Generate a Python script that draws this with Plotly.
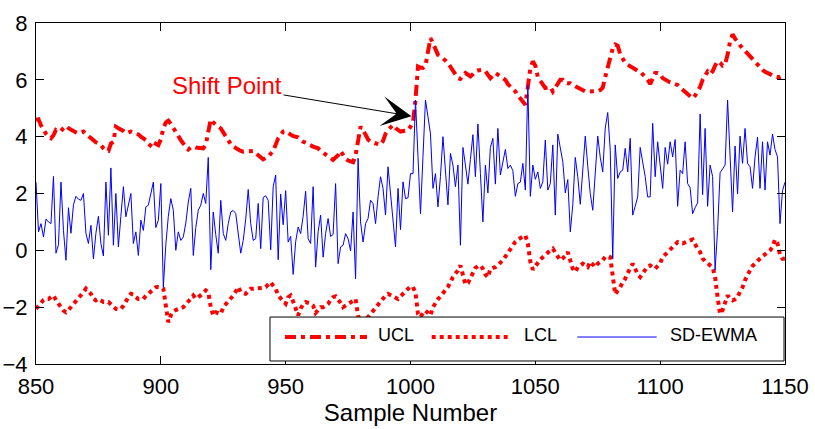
import plotly.graph_objects as go

sample_start = 850
sample_end = 1150
samples = list(range(sample_start, sample_end + 1))

ucl = [
    4.59, 4.61, 4.4, 4.24, 4.1, 4.0, 3.94, 4.05, 4.24, 4.2,
    4.2, 4.3, 4.38, 4.3, 4.24, 4.2, 4.15, 4.12, 4.15, 4.18,
    4.1, 4.02, 3.95, 3.88, 3.8, 3.76, 3.7, 3.59, 3.5, 3.5,
    3.76, 3.82, 4.35, 4.3, 4.26, 4.2, 4.12, 4.15, 4.18, 4.15,
    4.12, 4.08, 4.0, 3.95, 3.88, 3.75, 3.65, 3.6, 3.75, 3.7,
    3.9,
    4.3, 4.5, 4.56, 4.45, 4.29, 4.15, 4.0, 3.88, 3.76, 3.65,
    3.55, 3.62, 3.65, 3.62, 3.61, 3.6, 3.59, 3.72, 4.1, 4.61,
    4.5, 4.41, 4.35, 4.29, 4.15, 4.0, 3.87, 3.74, 3.65, 3.59,
    3.55, 3.5, 3.47, 3.47, 3.47, 3.48, 3.5, 3.42, 3.35, 3.28,
    3.2, 3.25, 3.29, 3.4, 3.5, 3.72, 3.94, 4.06, 4.18, 4.2,
    4.12, 4.07, 4.02, 4.0, 3.98, 3.9, 3.82, 3.79, 3.76, 3.7,
    3.65, 3.62, 3.59, 3.5, 3.44, 3.36, 3.29, 3.23, 3.18, 3.27,
    3.35, 3.5, 3.35, 3.22, 3.16, 3.12, 3.1, 3.35, 3.9, 4.35,
    4.24, 4.05, 3.9, 3.82, 3.8, 3.76, 3.74, 3.71, 3.85, 4.1,
    4.24, 4.35, 4.41, 4.3, 4.22, 4.18, 4.2, 4.21, 4.22, 4.35,
    4.5, 5.3, 6.47, 6.43, 6.42, 6.5, 7.06, 7.47, 7.29, 7.1,
    6.88, 6.82, 6.76, 6.68, 6.59, 6.47, 6.35, 6.2, 6.06, 6.03,
    6.15, 6.24, 6.18, 6.12, 6.2, 6.3, 6.33, 6.35, 6.35, 6.3,
    6.15, 6.06, 6.15, 6.24, 6.18, 6.12, 6.05, 6.0, 5.85, 5.76,
    5.65, 5.59, 5.45, 5.35, 5.22, 5.12, 5.76, 6.4, 6.65, 6.5,
    6.1, 5.95, 5.82, 5.71, 5.73, 5.75, 5.59, 5.72, 5.88, 6.0,
    6.0, 5.9, 5.88, 5.88, 5.82, 5.77, 5.72, 5.66, 5.62, 5.59,
    5.59, 5.59, 5.59, 5.59, 5.6, 5.64, 5.72, 6.1, 6.47, 6.8,
    7.1, 7.24, 7.2, 6.9, 6.72, 6.6, 6.53, 6.47, 6.42, 6.36,
    6.32, 6.29, 6.2, 6.12, 6.0, 5.85, 6.05, 6.24, 6.24, 6.2,
    6.06, 6.0, 5.94, 5.91, 5.88, 5.85, 5.82, 5.73, 5.65, 5.59,
    5.53, 5.44, 5.35, 5.45, 5.6, 5.75, 6.0, 6.15, 6.29, 6.2,
    6.3, 6.5, 6.65, 6.6, 6.5, 6.55, 6.88, 7.35, 7.6, 7.45,
    7.32, 7.2, 7.1, 7.02, 6.92, 6.8, 6.7, 6.6, 6.53, 6.45,
    6.35, 6.28, 6.25, 6.2, 6.15, 6.12, 6.1, 6.1, 6.15, 6.1,
]

lcl = [
    -2.06, -1.95, -1.82, -1.75, -1.71, -1.71, -1.65, -1.59, -1.75, -1.85,
    -2.0, -2.12, -2.18, -2.1, -2.0, -1.9, -1.82, -1.72, -1.6, -1.47,
    -1.35, -1.45, -1.53, -1.7, -1.76, -1.71, -1.75, -1.82, -1.82, -1.82,
    -1.9, -2.0, -2.06, -2.08, -2.06, -1.95, -1.76, -1.65, -1.53, -1.55,
    -1.65, -1.71, -1.71, -1.71, -1.6, -1.53, -1.45, -1.35, -1.3, -1.29,
    -1.3,
    -1.35, -2.0, -2.53, -2.29, -2.15, -2.1, -2.06, -2.03, -2.0, -1.9,
    -1.82, -1.7, -1.59, -1.7, -1.65, -1.59, -1.5, -1.41, -1.47, -2.0,
    -2.29, -2.18, -2.2, -2.24, -2.0, -1.9, -1.82, -1.7, -1.59, -1.45,
    -1.29, -1.47, -1.5, -1.53, -1.45, -1.35, -1.35, -1.35, -1.35, -1.35,
    -1.32, -1.29, -1.2, -1.12, -1.25, -1.35, -1.59, -1.7, -1.82, -1.88,
    -1.65, -1.59, -1.8, -2.1, -2.29, -2.05, -1.9, -1.82, -1.85, -1.88,
    -1.95, -2.2, -2.1, -2.0, -2.0, -1.95, -1.88, -1.75, -1.65, -1.62,
    -1.72, -1.85, -2.0, -1.95, -1.9, -1.82, -1.78, -1.71, -2.29, -2.55,
    -2.5, -2.45, -2.35, -2.24, -2.1, -2.0, -1.88, -1.76, -1.68, -1.59,
    -1.53, -1.58, -1.65, -1.68, -1.71, -1.62, -1.53, -1.45, -1.35, -1.27,
    -1.29, -1.5, -2.24, -2.35, -2.2, -2.12, -2.2, -2.29, -2.0, -1.85,
    -1.72, -1.62, -1.53, -1.4, -1.29, -1.1, -0.94, -0.82, -0.71, -0.53,
    -0.94, -1.2, -1.15, -0.95, -0.75, -0.62, -0.56, -0.53, -0.65, -0.85,
    -0.95, -0.65, -0.62, -0.59, -0.52, -0.45, -0.35, -0.22, -0.08, 0.05,
    0.18, 0.3, 0.38, 0.44, 0.5, 0.53, 0.24, -0.4, -0.68, -0.55,
    -0.41, -0.32, -0.24, -0.15, -0.06, 0.0, 0.06, -0.1, -0.25, -0.35,
    -0.28, -0.2, -0.06, -0.4, -0.65, -0.76, -0.59, -0.53, -0.47, -0.53,
    -0.59, -0.4, -0.5, -0.59, -0.47, -0.41, -0.35, -0.22, -0.2, -0.24,
    -1.0, -1.55, -1.41, -1.3, -1.12, -1.0, -0.8, -0.59, -0.47, -0.65,
    -0.85, -0.94, -0.82, -0.65, -0.56, -0.53, -0.6, -0.65, -0.55, -0.45,
    -0.24, -0.15, -0.06, 0.03, 0.12, 0.2, 0.29, 0.26, 0.24, 0.28,
    0.33, 0.35, 0.38, 0.2, 0.05, -0.06, -0.29, -0.38, -0.47, -0.53,
    -0.59, -0.94, -1.65, -2.24, -2.1, -1.82, -1.59, -1.7, -1.76, -1.72,
    -1.65, -1.45, -1.3, -1.05, -0.85, -0.7, -0.55, -0.45, -0.35, -0.28,
    -0.2, -0.14, -0.08, 0.0, 0.12, 0.38, 0.24, -0.15, -0.3, -0.3,
]

sd_ewma = [
    2.4, 0.65, 0.94, 0.47, 1.1, 1.0, 0.94, 2.6, -0.1, 0.2,
    2.4, 0.7, -0.35, 1.5, 0.6, 1.6, 1.9, 1.8, 1.76, 2.0,
    0.6, 0.24, 0.88, -0.3, 0.6, 1.2, 0.24, -0.2, 2.4, 0.53,
    2.9, 0.18, 2.0, 0.12, 1.2, 2.24, 1.18, 1.6, 2.0, 0.24,
    0.65, -0.18, 1.06, 0.7, 1.53, 1.59, 2.0, 2.4, 0.8, 1.06,
    2.35,
    -1.3, 0.2, 1.2, 1.82, 1.41, 0.0, 0.65, 0.35, 0.47, 0.96,
    1.7, 2.18, -0.18, 0.8, 1.41, 1.59, 2.0, 1.65, 3.27, -0.68,
    1.35, 0.55, -0.1, 1.76, 0.59, 0.35, 0.94, 1.35, 1.4, 1.3,
    0.6, -0.1, 0.35, 1.1, 2.14, 0.94, 0.35, 0.41, 1.65, 0.06,
    1.86, 1.92, 1.76, 0.02, 2.24, 2.65, -0.33, 1.98, 0.9, 2.1,
    0.29, 0.49, -0.85, 0.3, 0.82, 0.59, 1.2, 2.08, 0.41, 0.24,
    2.24, -0.59, 0.65, 1.24, -0.24, 0.59, 1.12, 0.49, 0.56, 2.35,
    -0.47, 0.12, 0.18, 0.59, 0.41, -0.02, 1.35, -1.0, 3.24, 1.0,
    0.29, 0.94, 1.12, 1.76, 1.65, 0.94, 1.88, 2.59, 2.18, 1.24,
    2.94, 2.0, 1.0, 0.12, 2.18, 0.73, 2.41, 1.82, 1.85, 2.7,
    2.7, 5.29, 3.3, 1.29, 3.3, 5.29, 4.7, 4.1, 2.18, 2.7,
    1.53, 2.6, 4.0, 2.8, 1.6, 3.41, 3.0, 2.24, 3.0, 0.18,
    3.62, 3.0, 2.33, 3.2, 4.07, 2.59, 4.45, 2.7, 1.0, 3.0,
    2.02, 3.62, 3.94, 2.33, 4.29, 2.65, 3.1, 3.55, 2.88, 3.0,
    2.8, 1.9, 2.35, 2.4, 3.06, 2.12, 5.82, 1.9, 3.0, 2.5,
    2.76, 2.18, 2.41, 3.88, 2.12, 2.35, 3.71, 1.24, 4.09, 3.6,
    3.12, 2.02, 2.49, 0.65, 1.6, 3.27, 2.59, 1.62, 2.8, 4.02,
    2.96, 2.0, 1.41, 2.82, 4.02, 3.27, 2.76, 4.3, 4.85, 3.53,
    -0.3, 3.71, 2.53, 2.76, 2.82, 3.59, 2.76, 3.94, 1.24, 1.55,
    1.88, 3.62, 3.1, 2.59, 1.88, 1.88, 4.47, 2.59, 3.82, 2.9,
    2.18, 3.62, 3.03, 3.82, 3.29, 3.9, 1.55, 2.82, 2.7, 3.82,
    2.35, 2.2, 1.29, 1.5, 1.67, 4.8, 1.96, 4.29, 1.55, 3.0,
    2.6, -0.7, 0.71, 2.73, 2.85, 3.0, 5.29, 3.3, 1.35, 3.67,
    1.98, 4.02, 3.06, 4.29, 3.06, 2.94, 2.18, 3.29, 3.98, 2.18,
    3.82, 2.12, 3.82, 3.35, 4.09, 3.55, 3.29, 0.94, 2.1, 2.4,
]

x_ticks = [850, 900, 950, 1000, 1050, 1100, 1150]
y_ticks = [-4, -2, 0, 2, 4, 6, 8]
x_title = "Sample Number"
legend_names = ["UCL", "LCL", "SD-EWMA"]
shift_label = "Shift Point"
shift_tip = (1000.4, 4.72)
shift_text_pos = (926.5, 5.8)

FONT = "Liberation Sans, Arial, Helvetica, sans-serif"
RED = "#FF0000"
BLUE = "#0000FF"
UCL_DASH = "11px,5px,4px,5px"
LCL_DASH = "4px,4px"

fig = go.Figure()
fig.add_trace(go.Scatter(x=samples, y=ucl, mode="lines", name=legend_names[0],
                         line=dict(color=RED, width=4, dash=UCL_DASH), showlegend=False))
fig.add_trace(go.Scatter(x=samples, y=lcl, mode="lines", name=legend_names[1],
                         line=dict(color=RED, width=4, dash=LCL_DASH), showlegend=False))
fig.add_trace(go.Scatter(x=samples, y=sd_ewma, mode="lines", name=legend_names[2],
                         line=dict(color=BLUE, width=1), showlegend=False))

# legend box drawn inside the plot (bottom right)
lx0, lx1, ly0, ly1 = 0.3124, 0.9987, 0.0088, 0.1377
line_y = 0.0791
text_y = 0.085
shapes = [dict(type="rect", xref="paper", yref="paper", x0=lx0, x1=lx1, y0=ly0, y1=ly1,
               fillcolor="white", line=dict(color="black", width=1), layer="above")]
entries = [
    (0.3324, 0.4419, 0.4539, dict(color=RED, width=4, dash=UCL_DASH)),
    (0.5283, 0.6306, 0.6485, dict(color=RED, width=4, dash=LCL_DASH)),
    (0.7227, 0.8287, 0.8442, dict(color=BLUE, width=1)),
]
annotations = []
for name, (sx0, sx1, tx, ln) in zip(legend_names, entries):
    shapes.append(dict(type="line", xref="paper", yref="paper", x0=sx0, x1=sx1,
                       y0=line_y, y1=line_y, line=ln, layer="above"))
    annotations.append(dict(xref="paper", yref="paper", x=tx, y=text_y, text=name,
                            showarrow=False, xanchor="left", yanchor="middle",
                            font=dict(family=FONT, size=18, color="black")))

annotations.append(dict(
    xref="x", yref="y", axref="x", ayref="y",
    x=shift_tip[0], y=shift_tip[1], ax=shift_text_pos[0], ay=shift_text_pos[1],
    text=shift_label, showarrow=True, arrowhead=3, arrowsize=5, arrowwidth=1,
    arrowcolor="black", standoff=0,
    font=dict(family=FONT, size=24, color=RED),
))

axis_common = dict(
    showline=True, linecolor="black", linewidth=1, mirror="ticks",
    ticks="inside", ticklen=8, tickwidth=1, tickcolor="black",
    showgrid=False, zeroline=False, automargin=False,
    tickfont=dict(family=FONT, size=22, color="black"),
)

fig.update_layout(
    width=815, height=429,
    margin=dict(l=36, r=30, t=23, b=65),
    paper_bgcolor="white", plot_bgcolor="white",
    shapes=shapes, annotations=annotations,
    showlegend=False,
    xaxis=dict(range=[sample_start, sample_end], tickvals=x_ticks,
               title=dict(text=x_title, font=dict(family=FONT, size=24, color="black"), standoff=5),
               ticklabelstandoff=3, **axis_common),
    yaxis=dict(range=[-4, 8], tickvals=y_ticks, ticklabelstandoff=3, **axis_common),
)

fig.write_html("out.html")
